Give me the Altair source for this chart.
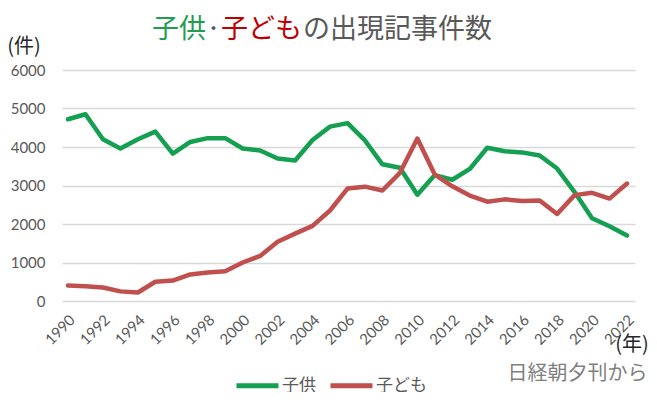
import altair as alt
import pandas as pd

years = list(range(1990, 2023))
kodomo_kanji = [4720, 4850, 4200, 3960, 4200, 4400, 3830, 4130, 4230, 4230,
                3960, 3910, 3700, 3650, 4180, 4530, 4620, 4170, 3550, 3460,
                2760, 3270, 3150, 3430, 3980, 3890, 3860, 3780, 3440, 2830,
                2150, 1940, 1700]
kodomo_kana = [400, 380, 350, 250, 220, 500, 530, 690, 740, 770,
               1000, 1170, 1540, 1750, 1950, 2350, 2920, 2970, 2870, 3330,
               4220, 3280, 2980, 2740, 2580, 2640, 2600, 2610, 2260, 2750,
               2810, 2660, 3050]
series_names = ["子供", "子ども"]
series_colors = ["#14a050", "#c0504d"]
x_ticks = list(range(1990, 2023, 2))
y_ticks = [0, 1000, 2000, 3000, 4000, 5000, 6000]

df = pd.DataFrame({
    "year": years * 2,
    "value": kodomo_kanji + kodomo_kana,
    "series": [series_names[0]] * len(years) + [series_names[1]] * len(years),
})

W, H = 573, 231
JP = "Noto Sans CJK JP"
NUM = "Lato"

xenc = alt.X("year:Q",
             scale=alt.Scale(domain=[1989.657, 2022.458], nice=False, zero=False),
             axis=alt.Axis(values=x_ticks, format="d", labelAngle=-45, labelAlign="right",
                           labelBaseline="middle", labelPadding=16, labelOffset=4,
                           labelFont=NUM, labelFontSize=15, labelColor="#595959",
                           ticks=False, domain=False, grid=False, title=None,
                           labelOverlap=False, labelFlush=False, labelBound=False))
yenc = alt.Y("value:Q",
             scale=alt.Scale(domain=[0, 6000], nice=False),
             axis=alt.Axis(values=y_ticks, format="d", labelPadding=17,
                           labelFont=NUM, labelFontSize=15, labelColor="#595959",
                           ticks=False, domain=False, grid=True, gridColor="#d9d9d9",
                           gridWidth=1.3, title=None))
cenc = alt.Color("series:N",
                 scale=alt.Scale(domain=series_names, range=series_colors),
                 legend=alt.Legend(title=None, orient="none", direction="horizontal",
                                   legendX=172, legendY=292, symbolType="stroke",
                                   symbolSize=1764, symbolStrokeWidth=5,
                                   labelFont=JP, labelFontSize=17, labelColor="#595959",
                                   labelOffset=1, columnPadding=4, padding=0,
                                   symbolOffset=0))

base = alt.Chart(df)
lines = [
    base.transform_filter(alt.datum.series == name).mark_line(
        strokeWidth=4.5, strokeJoin="round", strokeCap="round"
    ).encode(x=xenc, y=yenc, color=cenc)
    for name in series_names
]

def label(text, x, y, size, color, align="center", font=JP):
    return alt.Chart(pd.DataFrame({"t": [text]})).mark_text(
        align=align, baseline="middle", font=font, fontSize=size, color=color
    ).encode(text="t:N", x=alt.value(x), y=alt.value(y))

texts = [
    label("子供", 90, -40, 27, "#1f9e52", align="left"),
    label("・", 151.5, -40, 18, "#595959"),
    label("子ども", 159, -40, 27, "#c00000", align="left"),
    label("の出現記事件数", 241, -40, 27, "#595959", align="left"),
    label("(件)", -38, -23, 20, "#262626"),
    label("(年)", 570, 275, 20, "#262626"),
    label("日経朝夕刊から", 515.5, 304, 20, "#7f7f7f"),
]

chart = alt.layer(*lines, *texts).properties(
    width=W, height=H,
    autosize=alt.AutoSizeParams(type="none"),
    padding={"left": 54, "top": 62, "right": 14, "bottom": 91},
).configure_view(stroke=None)

chart.save("out.html", embed_options={"renderer": "svg", "actions": False})
